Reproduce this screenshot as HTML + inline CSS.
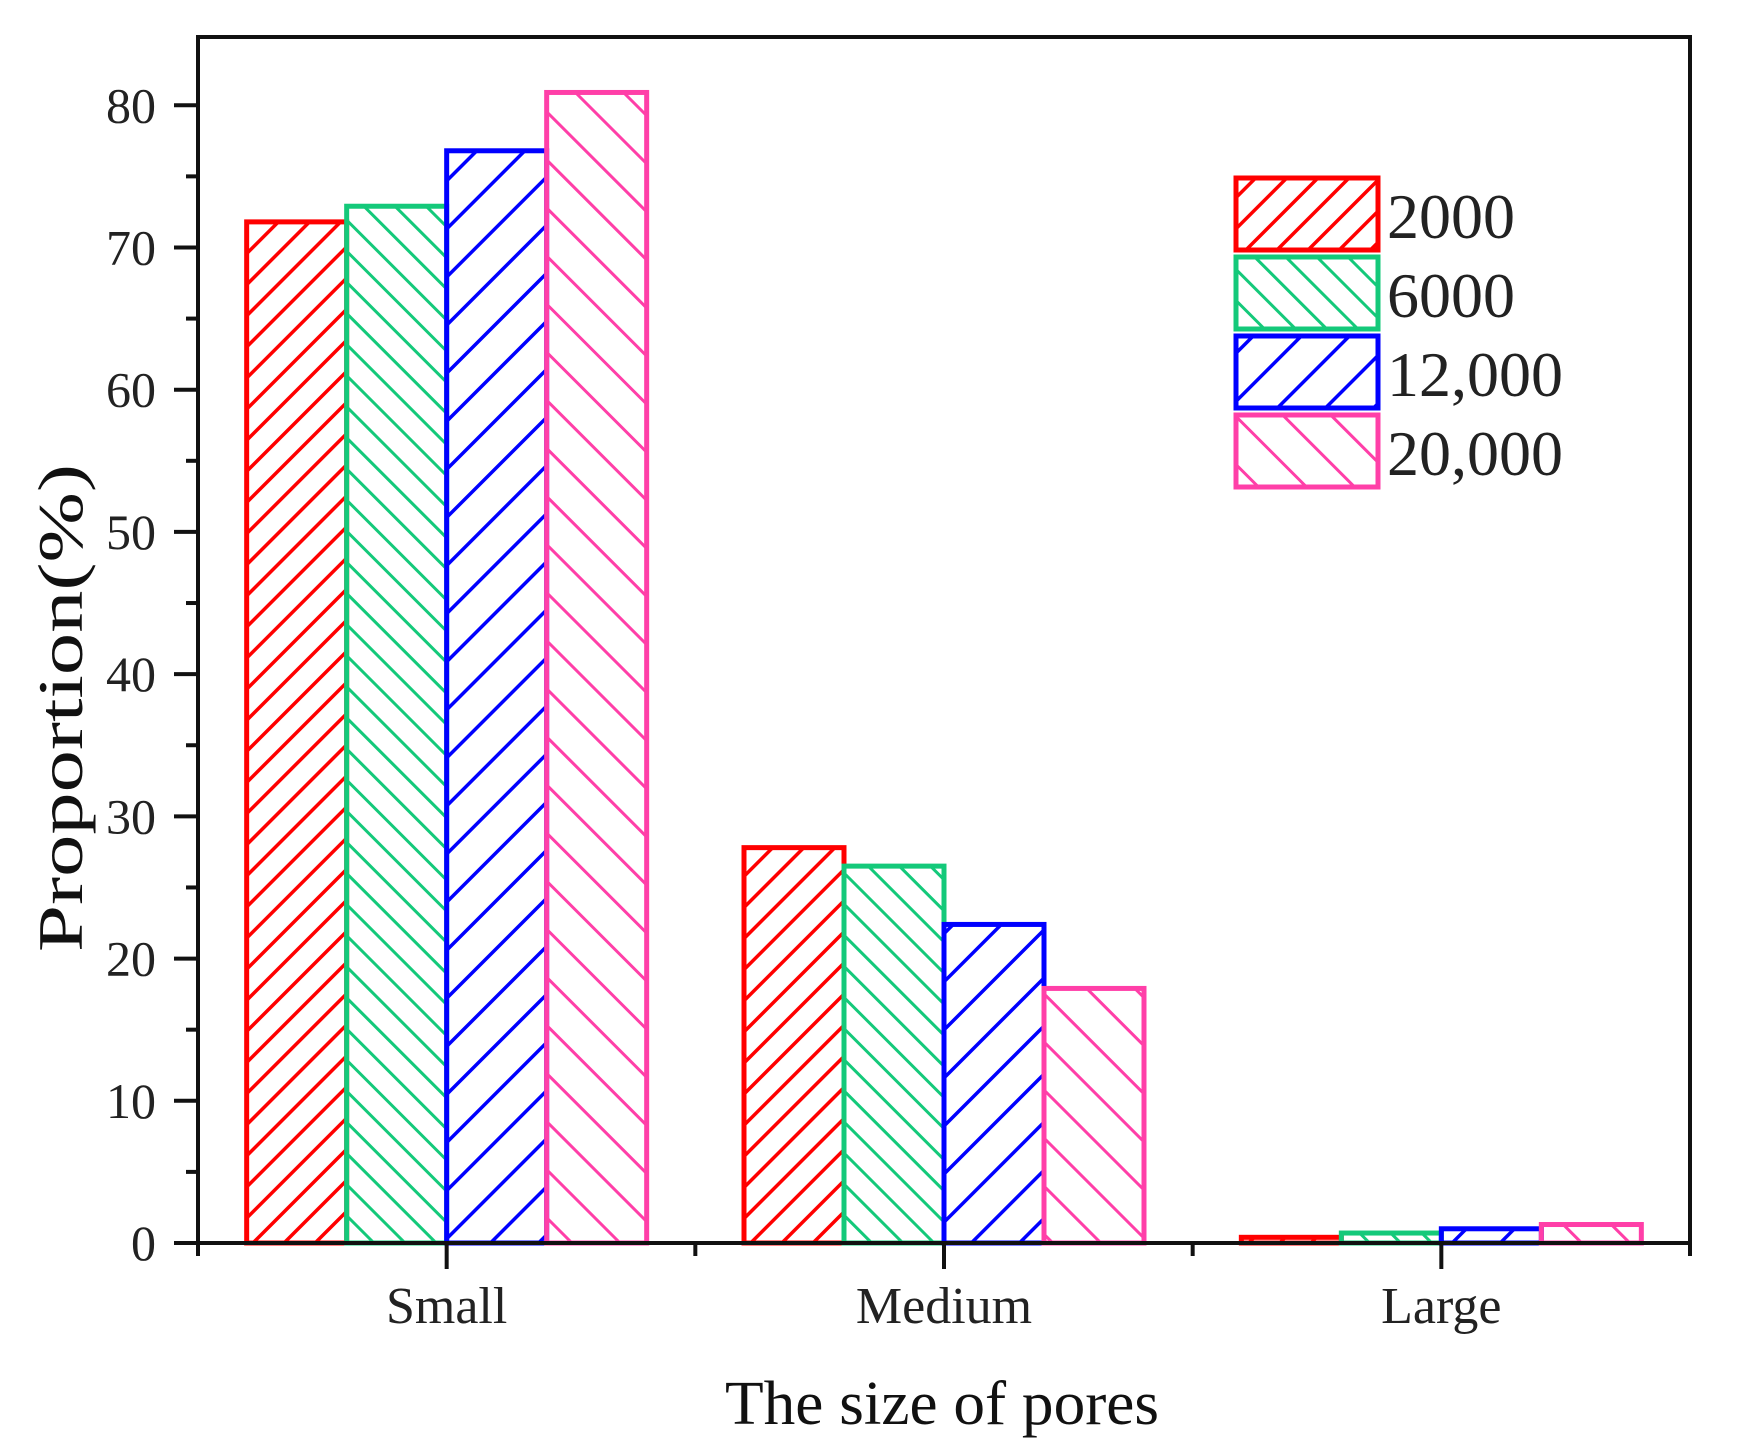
<!DOCTYPE html>
<html><head><meta charset="utf-8"><style>
html,body{margin:0;padding:0;background:#fff;}
svg{display:block;font-family:"Liberation Serif",serif;}
</style></head><body>
<svg id="chart" width="1739" height="1453" viewBox="0 0 1739 1453" xmlns="http://www.w3.org/2000/svg">
<defs>
<pattern id="h-red" patternUnits="userSpaceOnUse" width="22" height="22" patternTransform="rotate(45)"><line x1="0" y1="0" x2="0" y2="22" stroke="#ff0000" stroke-width="7"/></pattern>
<pattern id="h-green" patternUnits="userSpaceOnUse" width="22" height="22" patternTransform="rotate(-45)"><line x1="0" y1="0" x2="0" y2="22" stroke="#14c97a" stroke-width="6"/></pattern>
<pattern id="h-blue" patternUnits="userSpaceOnUse" width="34" height="34" patternTransform="rotate(45)"><line x1="0" y1="0" x2="0" y2="34" stroke="#0000ff" stroke-width="7"/></pattern>
<pattern id="h-pink" patternUnits="userSpaceOnUse" width="34" height="34" patternTransform="rotate(-45)"><line x1="0" y1="0" x2="0" y2="34" stroke="#ff3fa8" stroke-width="6"/></pattern>
</defs>
<g id="plot"></g>
</svg>
<script>
const categories = ["Small", "Medium", "Large"];
const seriesNames = ["2000", "6000", "12,000", "20,000"];
const s2000 = [71.8, 27.8, 0.4];
const s6000 = [72.9, 26.5, 0.7];
const s12000 = [76.8, 22.4, 1.0];
const s20000 = [80.9, 17.9, 1.3];
const yTicks = [0, 10, 20, 30, 40, 50, 60, 70, 80];

const NS = "http://www.w3.org/2000/svg";
const g = document.getElementById("plot");
const X0 = 198, X1 = 1690, Y0 = 1243, YT = 37;
const yMin = 0, yMax = 84.8;
function yScale(v){ return Y0 - (v - yMin) / (yMax - yMin) * (Y0 - YT); }
const catStep = (X1 - X0) / categories.length;
function xScale(i){ return X0 + catStep * (i + 0.5); }
const barW = 100;
const series = [s2000, s6000, s12000, s20000];
const colors = ["#ff0000", "#14c97a", "#0000ff", "#ff3fa8"];
const fills = ["url(#h-red)", "url(#h-green)", "url(#h-blue)", "url(#h-pink)"];
function mk(tag, attrs){ const e = document.createElementNS(NS, tag); for (const k in attrs) e.setAttribute(k, attrs[k]); return e; }

series.forEach((vals, si) => {
  vals.forEach((v, ci) => {
    const x = xScale(ci) - 2 * barW + si * barW;
    const y = yScale(v);
    const r = mk("rect", {x: x, y: y, width: barW, height: Y0 - y, fill: fills[si], stroke: colors[si], "stroke-width": 5});
    
    
    g.appendChild(r);
  });
});

const frame = mk("path", {d: `M${X0},${YT} H${X1} V${Y0} H${X0} Z`, fill: "none", stroke: "#111", "stroke-width": 4});


g.appendChild(frame);

yTicks.forEach(t => {
  const y = yScale(t);
  const tk = mk("line", {x1: X0 - 24, x2: X0, y1: y, y2: y, stroke: "#111", "stroke-width": 4});
  
  
  g.appendChild(tk);
  const lb = mk("text", {x: X0 - 42, y: y + 17, "text-anchor": "end", "font-size": 50, fill: "#222"});
  lb.textContent = t;
  
  
  g.appendChild(lb);
  if (t + 5 <= yMax) {
    const ym = yScale(t + 5);
    const mt = mk("line", {x1: X0 - 12, x2: X0, y1: ym, y2: ym, stroke: "#111", "stroke-width": 4});
    
    
    g.appendChild(mt);
  }
});

categories.forEach((c, i) => {
  const x = xScale(i);
  const tk = mk("line", {x1: x, x2: x, y1: Y0, y2: Y0 + 26, stroke: "#111", "stroke-width": 4});
  
  
  g.appendChild(tk);
  const lb = mk("text", {x: x, y: 1323, "text-anchor": "middle", "font-size": 52, fill: "#222"});
  lb.textContent = c;
  
  
  g.appendChild(lb);
});
for (let i = 0; i <= categories.length; i++) {
  const x = X0 + catStep * i;
  const mt = mk("line", {x1: x, x2: x, y1: Y0, y2: Y0 + 13, stroke: "#111", "stroke-width": 4});
  
  
  g.appendChild(mt);
}

seriesNames.forEach((n, si) => {
  const top = 178 + si * 79;
  const r = mk("rect", {x: 1236, y: top, width: 142, height: 72, fill: fills[si], stroke: colors[si], "stroke-width": 5});
  
  
  g.appendChild(r);
  const t = mk("text", {x: 1387, y: top + 60, "font-size": 64, fill: "#222"});
  t.textContent = n;
  
  
  g.appendChild(t);
});

const xt = mk("text", {x: 942, y: 1424, "text-anchor": "middle", "font-size": 62, fill: "#111", textLength: 434, lengthAdjust: "spacingAndGlyphs"});
xt.textContent = "The size of pores";


g.appendChild(xt);
const yt = mk("text", {x: 0, y: 0, "text-anchor": "middle", "font-size": 64, fill: "#111", textLength: 488, lengthAdjust: "spacingAndGlyphs", transform: "translate(82,708) rotate(-90)"});
yt.textContent = "Proportion(%)";


g.appendChild(yt);
</script>
</body></html>
